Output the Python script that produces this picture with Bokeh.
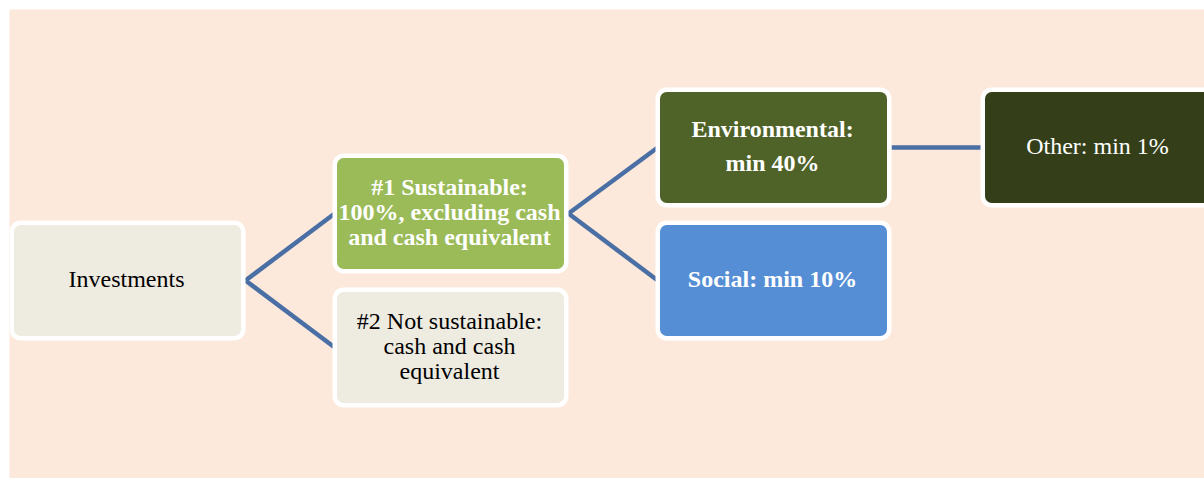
from bokeh.plotting import figure
from bokeh.models import Range1d, ColumnDataSource
from bokeh.core.properties import value
from bokeh.embed import file_html
from bokeh.resources import INLINE

# ---- data (tree of the asset allocation) ----
labels = [
    "Investments",
    "#1 Sustainable:\n100%, excluding cash\nand cash equivalent",
    "#2 Not sustainable:\ncash and cash\nequivalent",
    "Environmental:\nmin 40%",
    "Social: min 10%",
    "Other: min 1%",
]
parents = [None, 0, 0, 1, 1, 3]
levels = [0, 1, 1, 2, 2, 3]

# ---- layout / style (not data) ----
W, H = 1204, 478
OFF = 9
col_left = [9, 332, 655, 980]           # outer left edge of each column
row_center = [280, 213, 347, 147, 280, 147]
box_w, box_h = 236, 120                  # outer size incl. white border
bw = 4.5                                 # border width
line_gap = [25, 25, 25, 34, 25, 25]
text_shift = -1.5
fills = ["#EEEBE0", "#9BBB59", "#EEEBE0", "#4F6228", "#558ED5", "#343F1A"]
txt_colors = ["#000000", "#FFFFFF", "#000000", "#FFFFFF", "#FFFFFF", "#FFFFFF"]
txt_styles = ["normal", "bold", "normal", "bold", "bold", "normal"]
bg = "#FDE9DB"
link_color = "#4A6FA5"

p = figure(width=W, height=H, output_backend="svg", toolbar_location=None,
           x_range=Range1d(OFF, W), y_range=Range1d(H, OFF),
           min_border_left=OFF, min_border_top=OFF,
           min_border_right=0, min_border_bottom=0)
p.axis.visible = False
p.grid.visible = False
p.outline_line_color = None
p.background_fill_color = bg
p.border_fill_color = "white"

left = [col_left[l] + bw / 2 for l in levels]
right = [x + box_w - bw for x in left]
top = [c - (box_h - bw) / 2 for c in row_center]
bottom = [c + (box_h - bw) / 2 for c in row_center]
cx = [(a + b) / 2 for a, b in zip(left, right)]

# connectors
x0, y0, x1, y1 = [], [], [], []
for i, par in enumerate(parents):
    if par is None:
        continue
    x0.append(right[par] + bw / 2); y0.append(row_center[par])
    x1.append(left[i]); y1.append(row_center[i])
p.segment(x0=x0, y0=y0, x1=x1, y1=y1, line_color=link_color, line_width=4.5)

src = ColumnDataSource(dict(left=left, right=right, top=top, bottom=bottom,
                            fill=fills))
p.quad(left="left", right="right", top="top", bottom="bottom", source=src,
       fill_color="fill", line_color="white", line_width=bw, border_radius=9)

# text lines
tx, ty, tt, tc, ts = [], [], [], [], []
for i, lab in enumerate(labels):
    lines = lab.split("\n")
    n = len(lines)
    for k, ln in enumerate(lines):
        tx.append(cx[i] - 1)
        ty.append(row_center[i] + text_shift + (k - (n - 1) / 2) * line_gap[i])
        tt.append(ln); tc.append(txt_colors[i]); ts.append(txt_styles[i])
tsrc = ColumnDataSource(dict(x=tx, y=ty, t=tt, c=tc, s=ts))
p.text(x="x", y="y", text="t", source=tsrc, text_color="c",
       text_font_style="s", text_font=value("Liberation Serif"),
       text_font_size="24px", text_align="center", text_baseline="middle")

open("out.html", "w").write(file_html(p, INLINE))
